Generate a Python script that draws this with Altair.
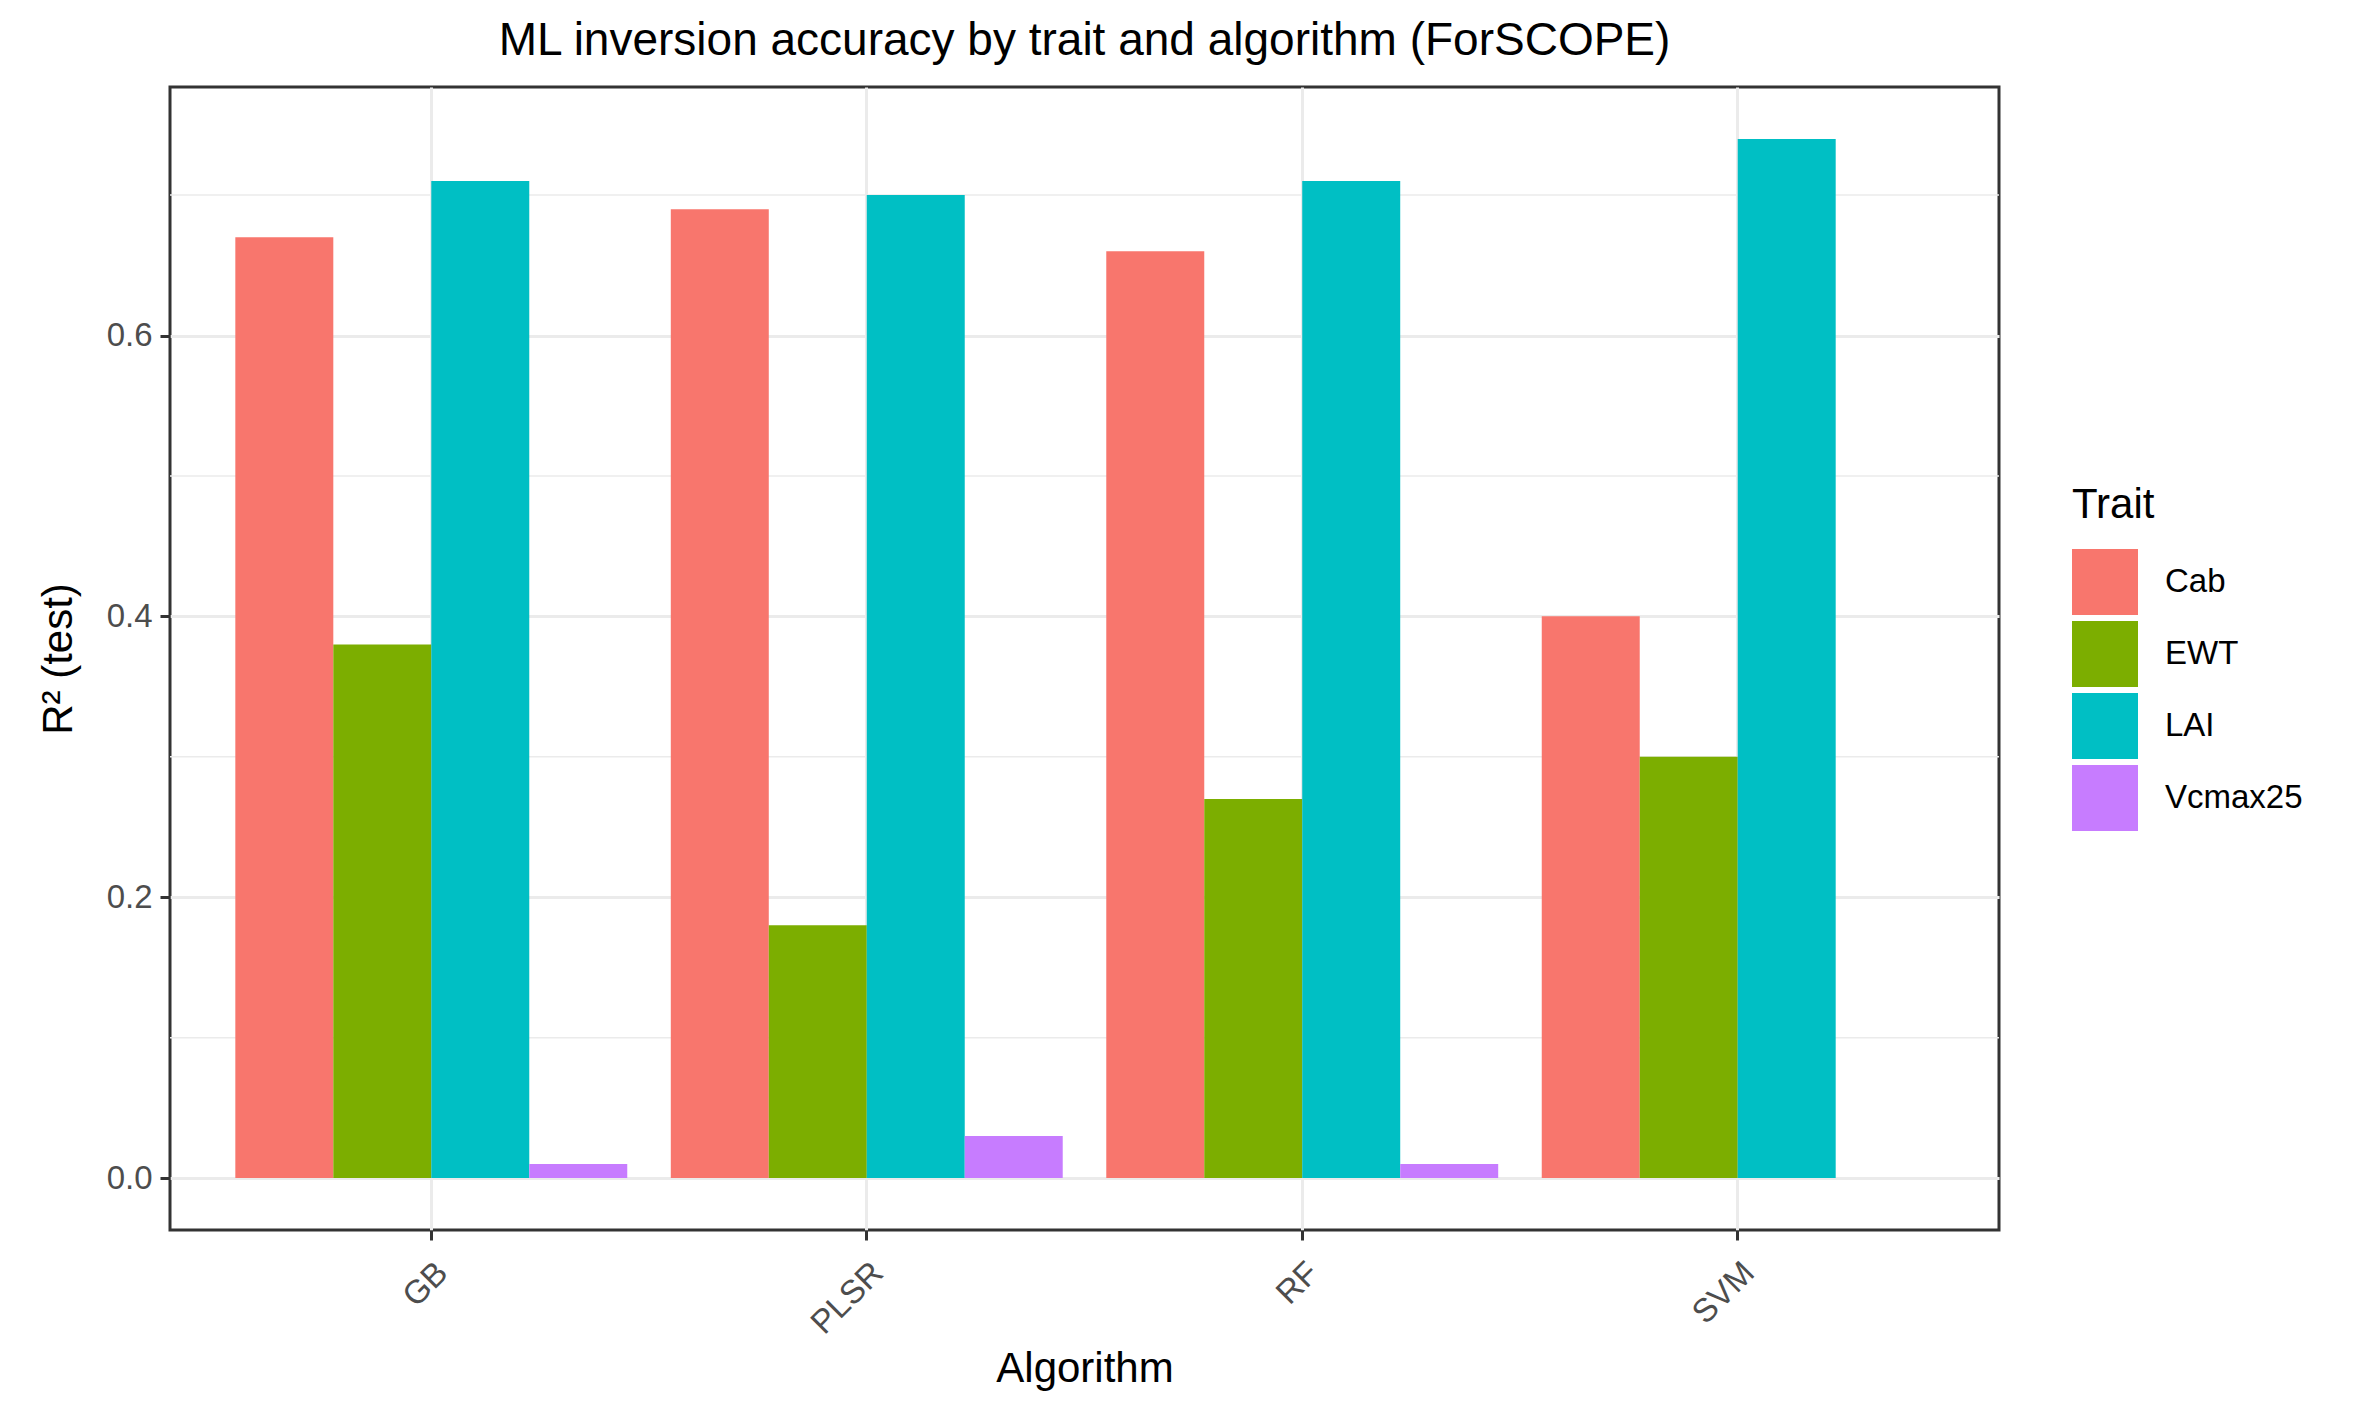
import altair as alt
import pandas as pd

algorithms = ["GB", "PLSR", "RF", "SVM"]
traits = ["Cab", "EWT", "LAI", "Vcmax25"]
cab = [0.67, 0.69, 0.66, 0.40]
ewt = [0.38, 0.18, 0.27, 0.30]
lai = [0.71, 0.70, 0.71, 0.74]
vcmax = [0.01, 0.03, 0.01, 0.0]
trait_colors = ["#F8766D", "#7CAE00", "#00BFC4", "#C77CFF"]
y_major = [0.0, 0.2, 0.4, 0.6]
y_minor = [0.1, 0.3, 0.5, 0.7]

rows = []
for series, name in zip([cab, ewt, lai, vcmax], traits):
    for alg, v in zip(algorithms, series):
        rows.append({"Algorithm": alg, "Trait": name, "R2": v})
df = pd.DataFrame(rows)
minor_df = pd.DataFrame({"y": y_minor})

FONT = "Liberation Sans"
ydom = [-0.037, 0.777]

minor = alt.Chart(minor_df).mark_rule(color="#EBEBEB", strokeWidth=1.5).encode(
    y=alt.Y("y:Q", scale=alt.Scale(domain=ydom, nice=False, zero=False))
)

bars = alt.Chart(df).mark_bar().encode(
    x=alt.X(
        "Algorithm:N",
        sort=algorithms,
        scale=alt.Scale(paddingInner=0.1, paddingOuter=0.15),
        axis=alt.Axis(
            title="Algorithm",
            labelAngle=-45,
            labelAlign="right",
            labelBaseline="top",
            labelPadding=16,
            bandPosition=0.5,
            titlePadding=8,
        ),
    ),
    xOffset=alt.XOffset("Trait:N", sort=traits),
    y=alt.Y(
        "R2:Q",
        scale=alt.Scale(domain=ydom, nice=False, zero=False),
        axis=alt.Axis(title="R² (test)", values=y_major, format=".1f", titlePadding=26),
    ),
    y2=alt.datum(0),
    color=alt.Color(
        "Trait:N",
        sort=traits,
        scale=alt.Scale(domain=traits, range=trait_colors),
        legend=alt.Legend(
            title="Trait",
            orient="none",
            legendX=1902,
            legendY=398,
            symbolType="square",
            symbolSize=4356,
            symbolStrokeWidth=0,
            symbolOpacity=1,
            labelOffset=27,
            rowPadding=6,
            titlePadding=22,
            labelFontSize=33,
            titleFontSize=42,
            labelFont=FONT,
            titleFont=FONT,
            titleFontWeight="normal",
            labelColor="#000000",
            titleColor="#000000",
        ),
    ),
)

chart = (
    alt.layer(minor, bars)
    .properties(
        width=1829,
        height=1143,
        title=alt.TitleParams(
            "ML inversion accuracy by trait and algorithm (ForSCOPE)",
            font=FONT,
            fontSize=46,
            fontWeight="normal",
            color="#000000",
            anchor="middle",
            offset=22,
        ),
        autosize=alt.AutoSizeParams(type="none"),
        padding={"left": 162, "top": 79, "right": 349, "bottom": 173},
    )
    .configure_view(stroke="#333333", strokeWidth=3)
    .configure_axis(
        labelFont=FONT,
        titleFont=FONT,
        labelFontSize=33,
        titleFontSize=42,
        titleFontWeight="normal",
        labelColor="#4D4D4D",
        titleColor="#000000",
        tickColor="#333333",
        tickWidth=3,
        tickSize=10,
        labelPadding=8,
        grid=True,
        gridColor="#EBEBEB",
        gridWidth=3,
        domain=False,
    )
)

chart.save("out.html", embed_options={"renderer": "svg", "actions": False})
